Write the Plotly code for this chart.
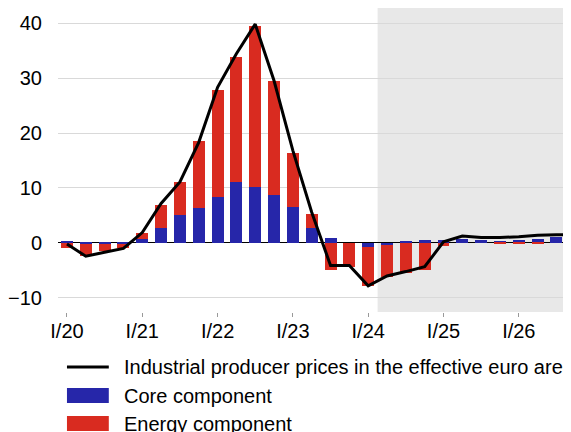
import plotly.graph_objects as go

# ---- data ----
quarters = [f"{q}/{y}" for y in range(20, 27) for q in ["I", "II", "III", "IV"]]
core = [0.4, -0.15, -0.15, -0.1, 0.8, 2.8, 5.0, 6.4, 8.4, 11.0, 10.2, 8.7, 6.5, 2.7,
        0.9, 0.0, -0.7, -0.4, 0.3, 0.55, 0.5, 0.7, 0.55, 0.4, 0.5, 0.7, 1.1, 1.1]
energy = [-0.85, -2.2, -1.3, -0.75, 1.0, 4.1, 6.0, 12.1, 19.4, 22.9, 29.3, 20.8, 9.8, 2.6,
          -5.0, -4.3, -7.1, -5.8, -5.5, -4.9, -0.5, 0.0, 0.0, -0.2, -0.2, -0.15, 0.0, 0.0]
ppi = [-0.2, -2.4, -1.7, -1.0, 1.9, 7.2, 11.1, 18.3, 28.3, 34.4, 39.8, 29.5, 16.8, 5.6,
       -4.1, -4.1, -7.8, -6.0, -5.2, -4.3, 0.2, 1.25, 1.0, 1.0, 1.15, 1.4, 1.5, 1.5]
tick_labels = ["I/20", "I/21", "I/22", "I/23", "I/24", "I/25", "I/26"]
y_ticks = [-10, 0, 10, 20, 30, 40]
forecast_start = "II/24"
legend_names = ["Industrial producer prices in the effective euro area",
                "Core component", "Energy component"]

BLUE = "#2626a9"
RED = "#d92b20"

# page body has an 8px margin; figure sized to the visible part of the window
W, H = 563, 424
L, R, T, B = 48, 0, 0, 120
PW, PH = W - L - R, H - T - B

def px(x):
    return (x - L) / PW

def py(y):
    return (H - B - y) / PH

xs = list(range(len(quarters)))
spacing = 18.9  # pixels per quarter
x0 = -(57 - L) / spacing
x1 = x0 + PW / spacing
tickvals = [quarters.index(t) for t in tick_labels]
fc = quarters.index(forecast_start) - 0.5

fig = go.Figure()
fig.add_trace(go.Bar(x=xs, y=core, marker_color=BLUE, width=0.635, name=legend_names[1],
                     marker_line_width=0))
fig.add_trace(go.Bar(x=xs, y=energy, marker_color=RED, width=0.635, name=legend_names[2],
                     marker_line_width=0))
fig.add_trace(go.Scatter(x=xs, y=ppi, mode="lines", line=dict(color="black", width=3),
                         name=legend_names[0]))

fig.add_shape(type="rect", xref="x", yref="paper", x0=fc, x1=x1 + 1, y0=0, y1=1,
              fillcolor="#e8e8e8", line_width=0, layer="below")

# manual legend
fig.add_shape(type="line", xref="paper", yref="paper", x0=px(57), x1=px(99), y0=py(359), y1=py(359),
              line=dict(color="black", width=3))
fig.add_shape(type="rect", xref="paper", yref="paper", x0=px(57), x1=px(99), y0=py(380), y1=py(395),
              fillcolor=BLUE, line_width=0)
fig.add_shape(type="rect", xref="paper", yref="paper", x0=px(57), x1=px(99), y0=py(408), y1=py(423),
              fillcolor=RED, line_width=0)
for name, yy in zip(legend_names, [359, 388, 416]):
    fig.add_annotation(text=name, xref="paper", yref="paper", x=px(112), y=py(yy),
                       xanchor="left", yanchor="middle", showarrow=False,
                       font=dict(size=20, color="black"))

fig.update_layout(
    width=W, height=H, margin=dict(l=L, r=R, t=T, b=B),
    barmode="relative", bargap=0, showlegend=False,
    plot_bgcolor="white", paper_bgcolor="white",
    font=dict(family="Liberation Sans, Arial, sans-serif", color="black", size=20),
)
fig.update_xaxes(range=[x0, x1], tickvals=tickvals, ticktext=tick_labels, showgrid=False,
                 ticks="outside", ticklen=4, tickcolor="#999999", tickwidth=1,
                 ticklabelstandoff=-3, zeroline=False, showline=False)
fig.update_yaxes(range=[-12.55, 42.73], tickvals=y_ticks, showgrid=True, gridcolor="#d9d9d9",
                 gridwidth=1, zeroline=True, zerolinecolor="black", zerolinewidth=1,
                 ticklabelstandoff=15, showline=False)

fig.write_html("out.html")
